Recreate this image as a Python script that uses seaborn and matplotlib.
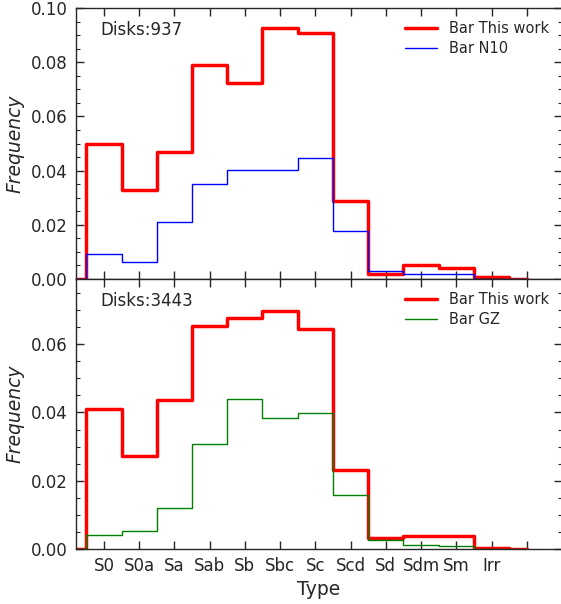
import numpy as np
import matplotlib
matplotlib.use("Agg")
import matplotlib.pyplot as plt
import seaborn as sns
from matplotlib.ticker import MultipleLocator, AutoMinorLocator

# Morphological types (x categories)
types = ["S0", "S0a", "Sa", "Sab", "Sb", "Sbc", "Sc", "Scd", "Sd", "Sdm", "Sm", "Irr"]

# Upper panel: N10 comparison sample (937 disks)
this_work_n10 = [0.0500, 0.0328, 0.0467, 0.0789, 0.0725, 0.0928, 0.0908, 0.0286,
                 0.0018, 0.0050, 0.0040, 0.0006]
n10 = [0.0093, 0.0062, 0.0211, 0.0349, 0.0402, 0.0403, 0.0446, 0.0178,
       0.0028, 0.0018, 0.0018, 0.0000]

# Lower panel: Galaxy Zoo comparison sample (3443 disks)
this_work_gz = [0.0409, 0.0272, 0.0437, 0.0653, 0.0675, 0.0696, 0.0645, 0.0231,
                0.0034, 0.0039, 0.0039, 0.0005]
gz = [0.0042, 0.0054, 0.0120, 0.0307, 0.0438, 0.0385, 0.0399, 0.0158,
      0.0028, 0.0012, 0.0009, 0.0002]

panels = [
    ("Disks:937", this_work_n10, n10, "Bar N10", "blue", 0.10),
    ("Disks:3443", this_work_gz, gz, "Bar GZ", "green", 0.079),
]

sns.set_style("ticks")
plt.rcParams["font.family"] = ["DejaVu Sans"]


def closed_steps(values):
    """Histogram-style outline: zero bins on both sides of the categories."""
    x = np.arange(-1, len(values) + 1)
    y = np.concatenate([[0.0], np.asarray(values, float), [0.0]])
    return x, y


fig = plt.figure(figsize=(5.61, 6.04), dpi=100)
W, H = 561.0, 604.0
left_px, right_px = 75.7, 562.0
boxes = [(8.0, 279.0), (279.0, 549.3)]

axes = []
for (top_px, bot_px) in boxes:
    ax = fig.add_axes([left_px / W, 1 - bot_px / H,
                       (right_px - left_px) / W, (bot_px - top_px) / H])
    axes.append(ax)

for ax, (title, ours, other, other_label, other_color, ymax) in zip(axes, panels):
    x, y = closed_steps(ours)
    sns.lineplot(x=x, y=y, ax=ax, color="red", lw=2.5, drawstyle="steps-mid",
                 estimator=None, sort=False, label="Bar This work")
    x2, y2 = closed_steps(other)
    sns.lineplot(x=x2, y=y2, ax=ax, color=other_color, lw=1.0,
                 drawstyle="steps-mid", estimator=None, sort=False,
                 label=other_label)

    ax.set_xlim(-0.8, 13)
    ax.set_ylim(0, ymax)
    ax.set_xticks(range(len(types) + 1))
    ax.set_xticklabels(types + [""])
    ax.yaxis.set_major_locator(MultipleLocator(0.02))
    ax.yaxis.set_minor_locator(AutoMinorLocator())
    ax.tick_params(which="both", direction="in", top=True, right=True,
                   labelsize=12, pad=5.5, color=".15")
    ax.tick_params(which="major", length=6, width=1)
    ax.tick_params(which="minor", length=3, width=0.8)
    for s in ax.spines.values():
        s.set_linewidth(1.0)

    ax.set_ylabel("Frequency", fontsize=13.5, fontstyle="italic", labelpad=5)
    ax.text(0.05, 0.92, title, transform=ax.transAxes, fontsize=12,
            ha="left", va="center")
    ax.legend(loc="upper right", frameon=False, fontsize=10.5,
              handlelength=2.2, labelspacing=0.35)

axes[0].tick_params(labelbottom=False)
axes[0].set_xlabel("")
axes[1].set_xlabel("Type", fontsize=13.5)

fig.savefig("out.png", dpi=100)
